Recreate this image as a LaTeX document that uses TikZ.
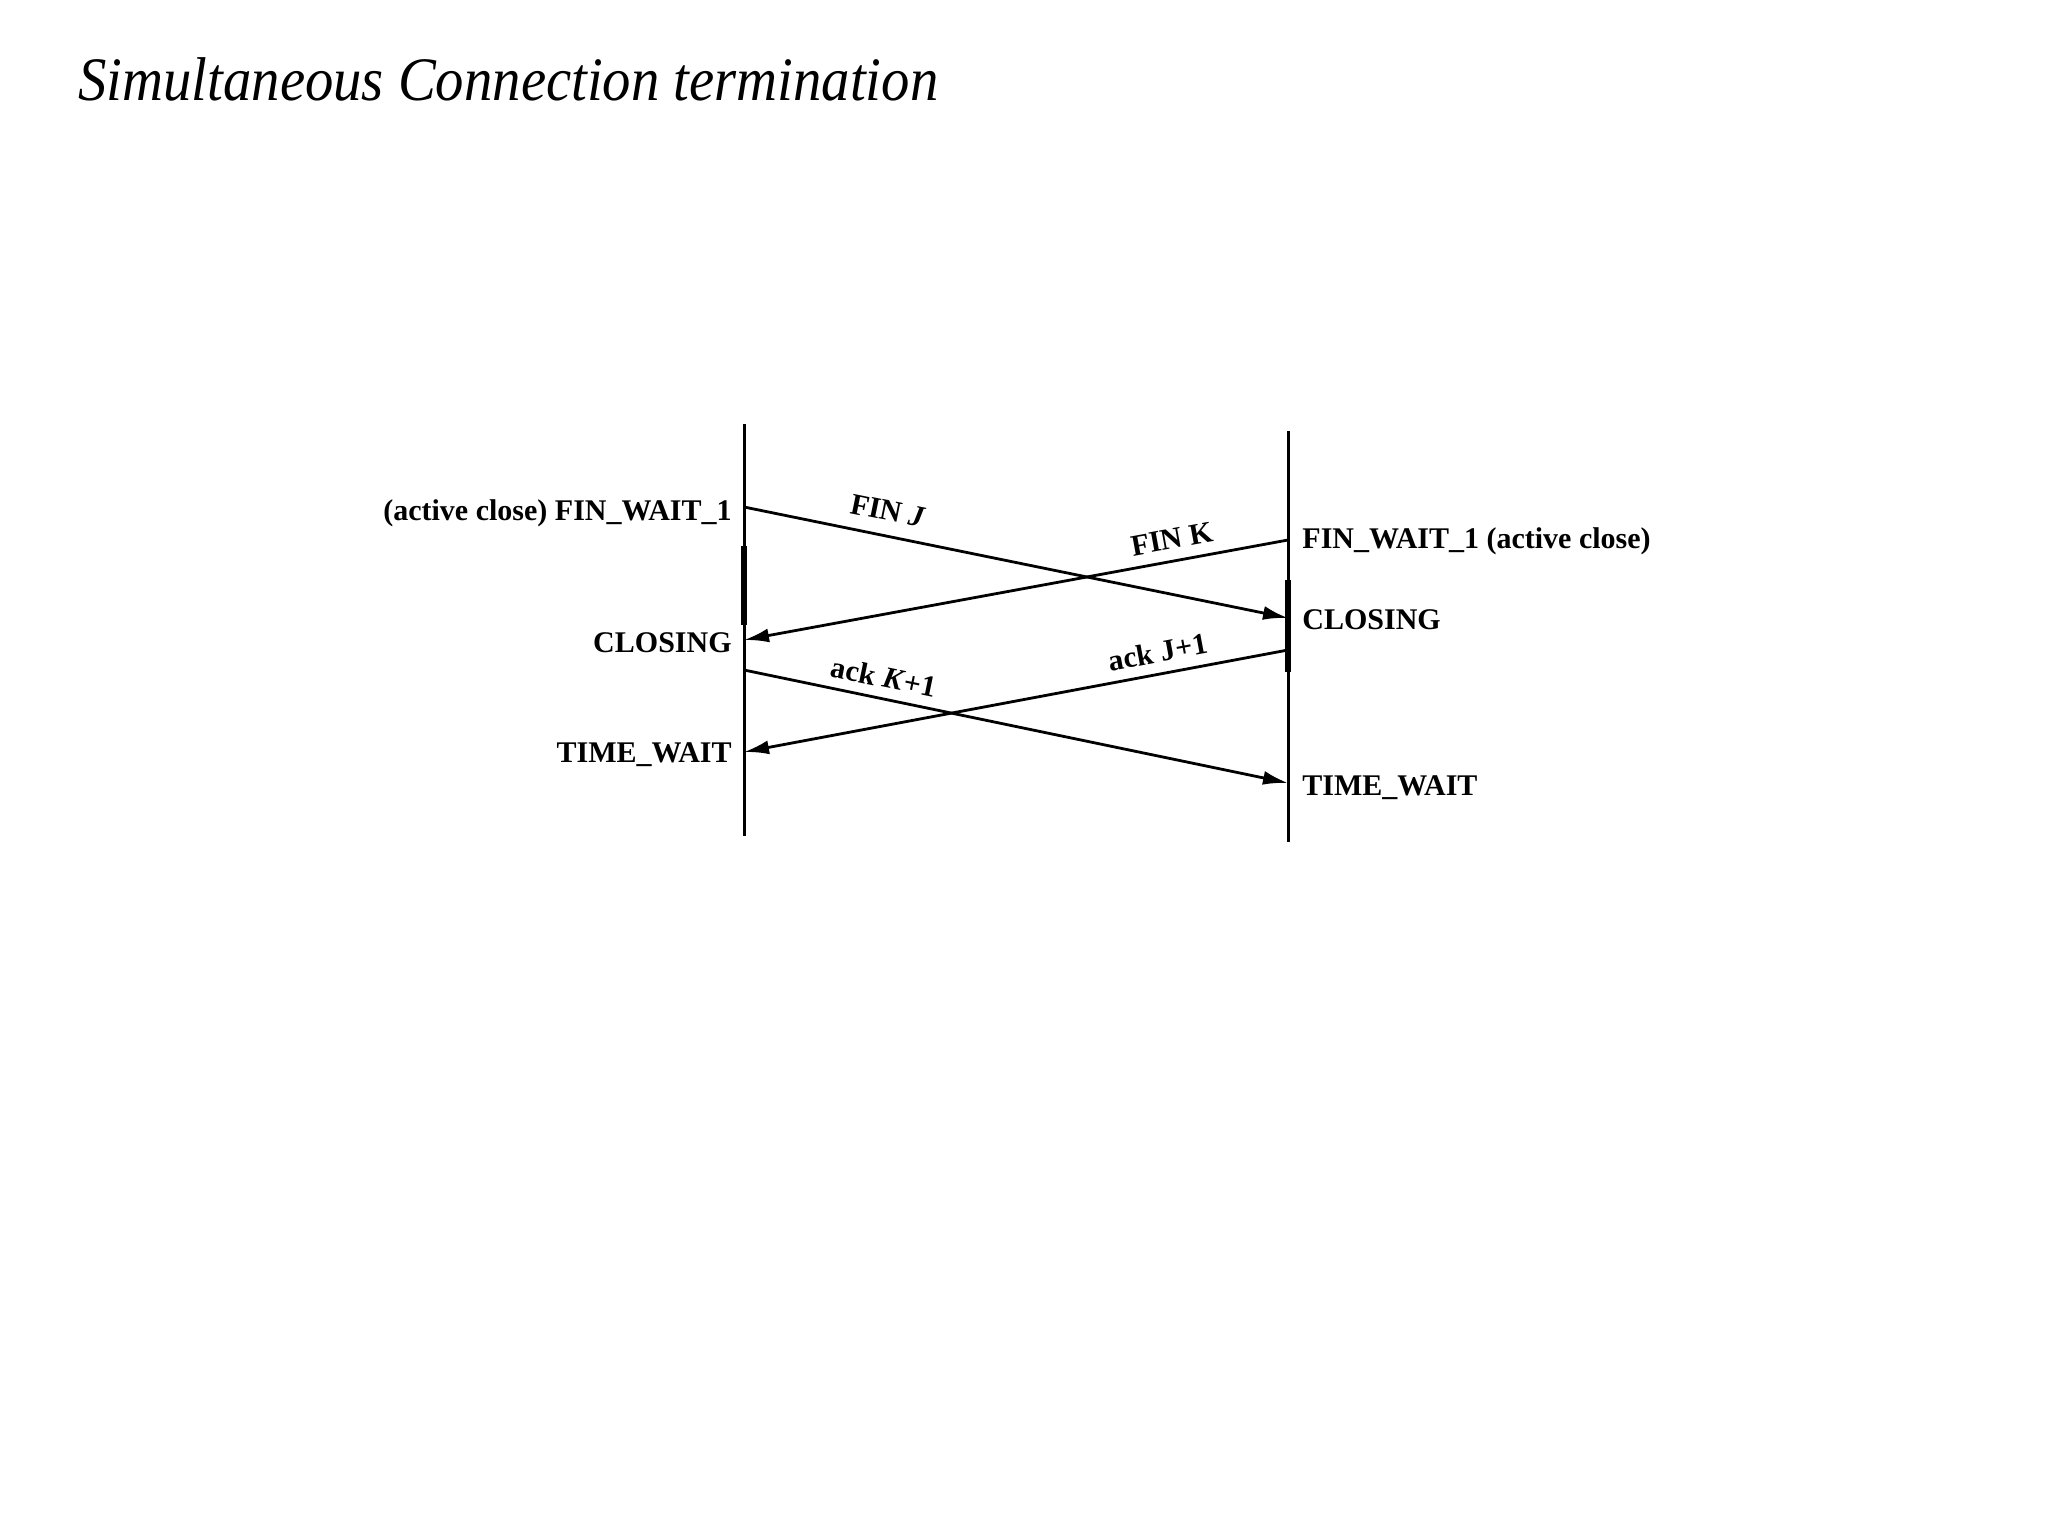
\documentclass[tikz,border=0pt]{standalone}
\usepackage{fontspec}
\setmainfont{Liberation Serif}
\usetikzlibrary{arrows.meta}
\tikzset{
  lifeline/.style={line width=1.5pt},
  thickseg/.style={line width=3pt},
  msg/.style={line width=1.4pt,-{Latex[length=12.5pt,width=7pt]}},
  state/.style={font=\fontsize{15}{18}\selectfont\bfseries,inner sep=0pt},
  msglabel/.style={font=\fontsize{15}{18}\selectfont\bfseries,inner sep=0pt},
}
\begin{document}
\begin{tikzpicture}[x=0.5pt,y=-0.5pt]
\useasboundingbox (0,0) rectangle (2048,1536);
% title
\node[anchor=base west,inner sep=0pt,font=\fontsize{30}{36}\selectfont\itshape] (title) at (78,101) {\scalebox{0.945}[1.03]{Simultaneous Connection termination}};
% lifelines
\coordinate (Ltop) at (744,424);
\coordinate (Lbot) at (744,836);
\coordinate (Rtop) at (1288,431);
\coordinate (Rbot) at (1288,842);
\draw[lifeline] (Ltop) -- (Lbot);
\draw[lifeline] (Rtop) -- (Rbot);
\coordinate (Lth1) at (744,546);
\coordinate (Lth2) at (744,625);
\coordinate (Rth1) at (1288,580);
\coordinate (Rth2) at (1288,672);
\draw[thickseg] (Lth1) -- (Lth2);
\draw[thickseg] (Rth1) -- (Rth2);
% message endpoints
\coordinate (finJs) at (744,507);
\coordinate (finJe) at (1288,618);
\coordinate (finKs) at (1288,540);
\coordinate (finKe) at (744,640);
\coordinate (ackKs) at (744,670);
\coordinate (ackKe) at (1288,783);
\coordinate (ackJs) at (1288,650);
\coordinate (ackJe) at (744,752);
\draw[msg] (finJs) -- (finJe);
\draw[msg] (finKs) -- (finKe);
\draw[msg] (ackKs) -- (ackKe);
\draw[msg] (ackJs) -- (ackJe);
% states
\node[state,anchor=base east] (lfw) at (732,520) {(active close) FIN\_WAIT\_1};
\node[state,anchor=base east] (lcl) at (732,652) {CLOSING};
\node[state,anchor=base east] (ltw) at (732,762) {TIME\_WAIT};
\node[state,anchor=base west] (rfw) at (1302,548) {FIN\_WAIT\_1 (active close)};
\node[state,anchor=base west] (rcl) at (1302,629) {CLOSING};
\node[state,anchor=base west] (rtw) at (1302,795) {TIME\_WAIT};
% message labels
\node[msglabel,rotate=-11.5] (lfinj) at (888,511) {FIN \textit{J}};
\node[msglabel,rotate=10.4] (lfink) at (1172,539) {FIN K};
\node[msglabel,rotate=-11.7] (lackk) at (884,677) {ack \textit{K}+1};
\node[msglabel,rotate=10.6] (lackj) at (1158,652) {ack J+1};
\end{tikzpicture}
\end{document}
